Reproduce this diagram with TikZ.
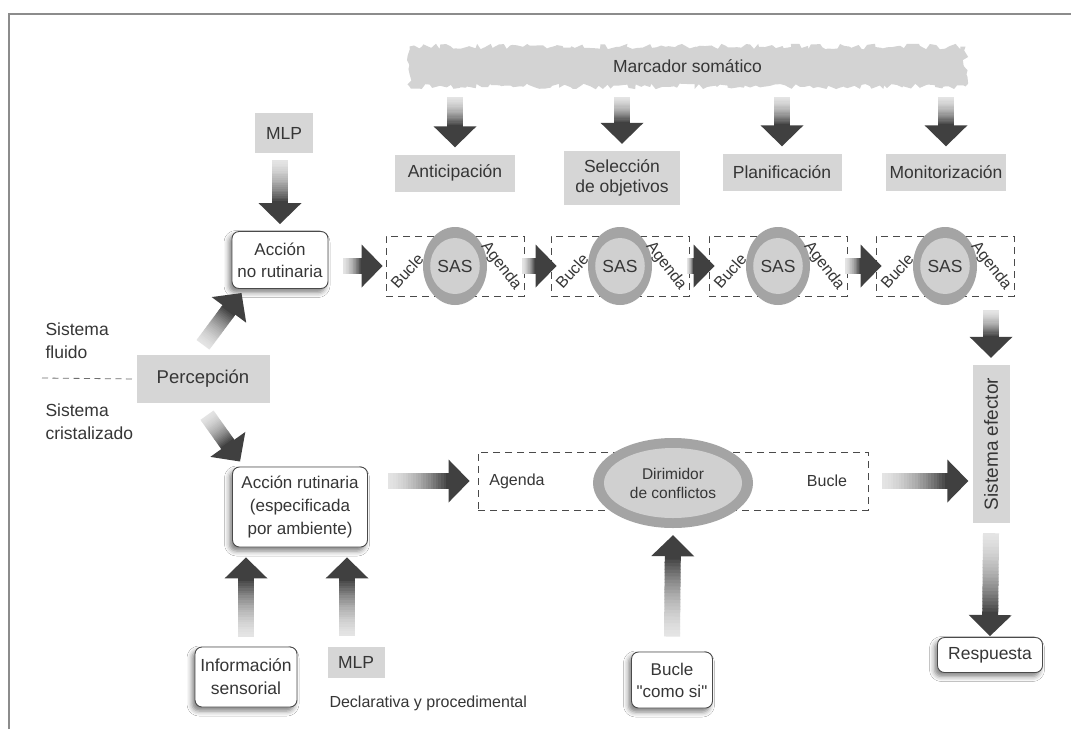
\documentclass[tikz,border=0pt]{standalone}
\usepackage{fontspec}
\setmainfont{Liberation Sans}
\usetikzlibrary{calc,shapes.geometric,decorations.pathmorphing,shadows.blur}

\definecolor{ink}{HTML}{363636}
\definecolor{boxgray}{HTML}{D6D6D6}
\definecolor{bandgray}{HTML}{D3D3D3}
\definecolor{ringgray}{HTML}{A4A4A4}
\definecolor{coregray}{HTML}{D0D0D0}
\definecolor{arrowdark}{HTML}{404040}
\definecolor{arrowlight}{HTML}{E4E4E4}
\definecolor{framegray}{HTML}{8C8C8C}
\definecolor{edgegray}{HTML}{4A4A4A}

% Thick block arrow from #1 to #2: shaft shaded from light (tail) to dark, solid head
\newcommand\blockarrow[2]{%
  \path let \p1=(#1), \p2=(#2) in \pgfextra{%
    \pgfmathsetmacro\baang{atan2(\y2-\y1,\x2-\x1)}%
    \pgfmathsetmacro\balen{veclen(\x2-\x1,\y2-\y1)}%
    \xdef\baang{\baang}\xdef\balen{\balen}%
    \xdef\bax{\x1}\xdef\bay{\y1}};
  \begin{scope}[shift={(\bax,\bay)}, rotate=\baang]
    \pgfmathsetmacro\bashaft{\balen-21}%
    \foreach \k in {0,...,23}{%
      \pgfmathsetmacro\xa{\bashaft*\k/24}%
      \pgfmathsetmacro\xb{min(\bashaft*(\k+1)/24+0.6,\bashaft+0.5)}%
      \pgfmathtruncatemacro\mixp{100*(\k/23)*(0.35+0.65*\k/23)}%
      \fill[arrowdark!\mixp!arrowlight] (\xa pt,-8pt) rectangle (\xb pt,8pt);
    }
    \fill[arrowdark] (\bashaft pt,-21.5pt) -- (\balen pt,0pt) -- (\bashaft pt,21.5pt) -- cycle;
  \end{scope}}

\tikzset{
  every node/.style={text=ink, font=\fontsize{17.5}{21}\selectfont},
  graybox/.style={fill=boxgray, inner sep=0pt, align=center},
  roundbox/.style={draw=edgegray, line width=0.9pt, fill=white, rounded corners=7pt,
    align=center, inner sep=0pt,
    blur shadow={shadow xshift=-3pt, shadow yshift=-4pt, shadow blur radius=5pt, shadow opacity=50}},
  dashbox/.style={draw=edgegray, line width=0.9pt, dash pattern=on 7pt off 5pt, inner sep=0pt},
  smalllabel/.style={font=\fontsize{16}{18}\selectfont},
  sidelabel/.style={anchor=west, align=left, font=\fontsize{17.5}{23}\selectfont},
}

\begin{document}
\begin{tikzpicture}[x=1pt, y=-1pt]
\useasboundingbox (0,0) rectangle (1071,729);
\fill[white] (0,0) rectangle (1071,729);

% page frame
\draw[framegray, line width=1.3pt] (9,729) -- (9,14) -- (1071,14);

% somatic marker band
\node[fill=bandgray, minimum width=556pt, minimum height=40pt, inner sep=0pt,
      decorate, decoration={random steps, segment length=4pt, amplitude=2.8pt}]
      (marc) at (687.5,66.5) {Marcador somático};

% executive stages
\node[graybox, minimum width=120pt, minimum height=37pt] (ant) at (455,173) {Anticipación};
\node[graybox, minimum width=116pt, minimum height=54pt, font=\fontsize{17.5}{20}\selectfont] (sel) at (622,178) {Selección\\de objetivos};
\node[graybox, minimum width=119pt, minimum height=37pt] (plan) at (782,172) {Planificación};
\node[graybox, minimum width=120pt, minimum height=37pt] (mon) at (946,172) {Monitorización};

% SAS chain
\foreach \n/\x in {1/455,2/620,3/778,4/945}{
  \node[dashbox, minimum width=138pt, minimum height=60pt] (sbox\n) at (\x,266) {};
  \node[ellipse, fill=ringgray, minimum width=64pt, minimum height=78pt, inner sep=0pt] (sasr\n) at (\x,266) {};
  \node[ellipse, fill=coregray, minimum width=44pt, minimum height=56pt, inner sep=0pt] (sas\n) at (\x,266) {SAS};
  \node[smalllabel, rotate=48, inner sep=1pt] (bu\n) at ($(sbox\n.center)+(-48,5)$) {Bucle};
  \node[smalllabel, rotate=-52, inner sep=1pt] (ag\n) at ($(sbox\n.center)+(46,0)$) {Agenda};
}

% left column
\node[graybox, minimum width=58pt, minimum height=40pt] (mlp1) at (284,133) {MLP};
\node[roundbox, minimum width=96pt, minimum height=57pt, font=\fontsize{17}{22}\selectfont] (acc1) at (280,260) {Acción\\no rutinaria};
\node[graybox, minimum width=133pt, minimum height=48pt, font=\fontsize{18.5}{21}\selectfont] (perc) at (203,379) {Percepción};
\node[sidelabel] (fluido) at (42,341) {Sistema\\fluido};
\node[sidelabel] (crist) at (42,422) {Sistema\\cristalizado};
\coordinate (dashstart) at (42,378);
\draw[edgegray!80, line width=0.8pt, dash pattern=on 6pt off 4.5pt] (dashstart) -- (perc.west);

\node[roundbox, minimum width=135pt, minimum height=80pt, font=\fontsize{17}{23}\selectfont] (acc2) at (300,507) {Acción rutinaria\\(especificada\\por ambiente)};
\node[roundbox, minimum width=102pt, minimum height=60pt, font=\fontsize{17.5}{23}\selectfont] (info) at (246,677) {Información\\sensorial};
\node[graybox, minimum width=57pt, minimum height=31pt] (mlp2) at (356,662) {MLP};
\node[anchor=west, font=\fontsize{16}{18}\selectfont] (decl) at (326,703) {Declarativa y procedimental};

% conflict resolution loop
\node[dashbox, minimum width=390pt, minimum height=58pt] (lbox) at (673,481) {};
\node[ellipse, fill=ringgray, minimum width=160pt, minimum height=90pt, inner sep=0pt] (dirimr) at (673,483) {};
\node[ellipse, fill=coregray, minimum width=138pt, minimum height=70pt, inner sep=0pt, align=center,
      font=\fontsize{15.5}{19}\selectfont] (dirim) at (673,483) {Dirimidor\\de conflictos};
\node[smalllabel] (agl) at (517,481) {Agenda};
\node[smalllabel] (bul) at (827,481) {Bucle};
\node[roundbox, minimum width=81pt, minimum height=56pt, font=\fontsize{17}{22}\selectfont] (bucomo) at (672,680) {Bucle\\\textquotedbl como si\textquotedbl};

% effector side (node turned a quarter: its east side faces up, its north side faces left)
\node[graybox, rotate=90, minimum width=158pt, minimum height=37pt, font=\fontsize{19}{21}\selectfont] (sef) at (991,444) {Sistema efector};
\node[roundbox, minimum width=105pt, minimum height=35pt] (resp) at (990,655) {Respuesta};

% arrows from the somatic marker
\foreach \t in {ant,sel,plan,mon}{
  \blockarrow{$(marc.south -| \t.north)+(0,10)$}{$(\t.north)+(0,-7)$}
}
% upper route
\blockarrow{$(mlp1.south -| acc1.north)+(0,7)$}{$(acc1.north)+(0,-7)$}
\blockarrow{$(acc1.east |- sbox1.west)+(15,0)$}{$(sbox1.west)+(-3,0)$}
\blockarrow{$(sbox1.east)+(-2,0)$}{$(sbox2.west)+(6,0)$}
\blockarrow{$(sbox2.east)+(-2,0)$}{$(sbox3.west)+(6,0)$}
\blockarrow{$(sbox3.east)+(-2,0)$}{$(sbox4.west)+(6,0)$}
\blockarrow{$(sbox4.south -| sef.east)+(0,14)$}{$(sef.east)+(0,-7)$}
% perception splits
\blockarrow{$(perc.north)+(0,-10)$}{$(acc1.south west)+(10,4)$}
\blockarrow{$(perc.south)+(4,12)$}{$(acc2.north west)+(8,-5)$}
% lower route
\blockarrow{$(acc2.east |- lbox.west)+(20,0)$}{$(lbox.west)+(-8,0)$}
\blockarrow{$(lbox.east)+(14,0)$}{$(lbox.east -| sef.north)+(-4,0)$}
\blockarrow{$(sef.west)+(0,10)$}{$(resp.north)+(0,-1)$}
\blockarrow{$(bucomo.north)+(0,-15)$}{$(dirimr.south)+(0,7)$}
\blockarrow{$(info.north)+(0,-10)$}{$(info.north |- acc2.south)+(0,10)$}
\blockarrow{$(mlp2.north)+(-9,-10)$}{$(acc2.south)+(47,10)$}
\end{tikzpicture}
\end{document}
